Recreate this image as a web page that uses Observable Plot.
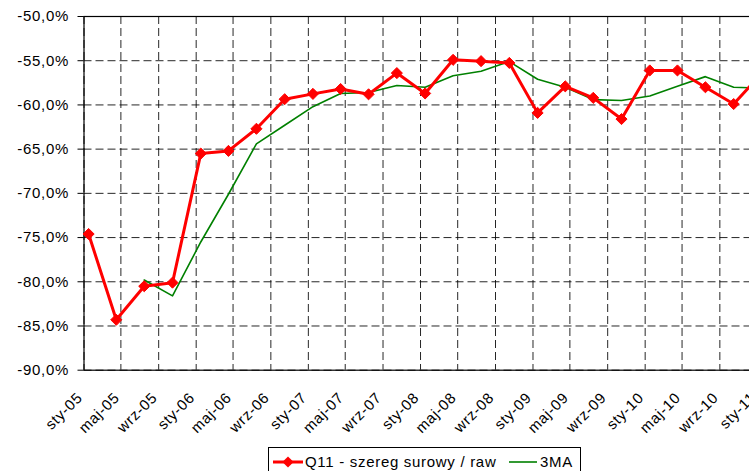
<!DOCTYPE html>
<html><head><meta charset="utf-8">
<script src="https://cdn.jsdelivr.net/npm/d3@7"></script>
<script src="https://cdn.jsdelivr.net/npm/@observablehq/plot@0.6"></script>
<style>
html,body{margin:0;padding:0;overflow:hidden;background:#fff;width:749px;height:471px}
#wrap{position:relative;width:749px;height:471px;overflow:hidden}
#chart{position:absolute;left:0;top:0;width:790px}
#chart svg{max-width:none !important}
#legend{position:absolute;left:268px;top:447px;width:313px;height:30px;border:1px solid #000;box-sizing:border-box;background:#fff}
svg text{letter-spacing:0.7px}
</style></head>
<body><div id="wrap"><div id="chart"></div><div id="legend"></div></div>
<script>
// Quarterly observations (month of observation)
const quarters = ["2005-01","2005-04","2005-07","2005-10","2006-01","2006-04","2006-07","2006-10",
  "2007-01","2007-04","2007-07","2007-10","2008-01","2008-04","2008-07","2008-10",
  "2009-01","2009-04","2009-07","2009-10","2010-01","2010-04","2010-07","2010-10","2011-01"];
// Q11 - szereg surowy / raw (%)
const raw = [-74.6,-84.3,-80.5,-80.1,-65.5,-65.2,-62.7,-59.35,-58.75,-58.2,-58.8,-56.4,
  -58.7,-54.9,-55.05,-55.25,-60.9,-57.9,-59.2,-61.6,-56.1,-56.1,-58.0,-59.9,-56.4];
// 3MA (%), first two quarters empty
const ma3 = [null,null,-79.8,-81.6,-75.5,-70.1,-64.4,-62.3,-60.2,-58.7,-58.6,-57.8,
  -58.0,-56.7,-56.2,-55.1,-57.1,-58.0,-59.4,-59.5,-59.0,-57.9,-56.8,-58.0,-58.1];
const seriesNames = ["Q11 - szereg surowy / raw","3MA"];
const tickLabels = ["sty-05","maj-05","wrz-05","sty-06","maj-06","wrz-06","sty-07","maj-07","wrz-07",
  "sty-08","maj-08","wrz-08","sty-09","maj-09","wrz-09","sty-10","maj-10","wrz-10","sty-11"];
const yTicks = [-90,-85,-80,-75,-70,-65,-60,-55,-50];
const monthNames = ["sty","lut","mar","kwi","maj","cze","lip","sie","wrz","paź","lis","gru"];

const midMonth = s => { const [y,m] = s.split("-").map(Number); return new Date(Date.UTC(y, m-1, 16)); };
const tickDates = tickLabels.map(l => { const [mn, yy] = l.split("-"); return new Date(Date.UTC(2000 + +yy, monthNames.indexOf(mn), 1)); });
const labelOf = new Map(tickDates.map((d,i) => [+d, tickLabels[i]]));

const rawData = quarters.map((q,i) => ({date: midMonth(q), value: raw[i]}));
const maData = quarters.map((q,i) => ({date: midMonth(q), value: ma3[i]})).filter(d => d.value != null);

const fmtPct = d => d.toFixed(1).replace(".", ",") + "%";
const dash = "8,4";

const chart = Plot.plot({
  width: 790, height: 440,
  marginLeft: 83.5, marginRight: 5.5, marginTop: 16, marginBottom: 70.3,
  style: {fontFamily: "'Liberation Sans', Arial, sans-serif", fontSize: "15px", background: "#fff", color: "#000", maxWidth: "none"},
  x: {type: "utc", domain: [new Date(Date.UTC(2005,0,1)), new Date(Date.UTC(2011,3,1))]},
  y: {domain: [-90, -50]},
  marks: [
    Plot.gridY(yTicks, {stroke: "#000", strokeOpacity: 0.85, strokeDasharray: dash}),
    Plot.gridX(tickDates, {stroke: "#000", strokeOpacity: 0.85, strokeDasharray: dash}),
    Plot.frame({stroke: "#000", strokeWidth: 1.2}),
    Plot.axisY(yTicks, {tickFormat: fmtPct, tickSize: 6, tickPadding: 9, label: null, fontSize: 15}),
    Plot.axisX(tickDates, {tickFormat: d => labelOf.get(+d), tickRotate: -45, tickSize: 0, tickPadding: 25, dx: -4, label: null, fontSize: 15}),
    Plot.line(maData, {x: "date", y: "value", stroke: "#008000", strokeWidth: 1.6}),
    Plot.line(rawData, {x: "date", y: "value", stroke: "#ff0000", strokeWidth: 3}),
    Plot.dot(rawData, {x: "date", y: "value", symbol: "diamond2", r: 5, fill: "#ff0000", stroke: "#ff0000", strokeWidth: 1})
  ]
});
chart.style.maxWidth = "none";
document.getElementById("chart").appendChild(chart);

// Legend below the chart
const lg = d3.select("#legend").append("svg").attr("width", 311).attr("height", 28)
  .style("position","absolute").style("left","0").style("top","0")
  .style("font-family","'Liberation Sans', Arial, sans-serif").style("font-size","15px");
lg.append("line").attr("x1",4).attr("x2",34).attr("y1",14).attr("y2",14).attr("stroke","#ff0000").attr("stroke-width",3);
lg.append("path").attr("d", d3.symbol(d3.symbolDiamond2, 80)()).attr("transform","translate(19,14)").attr("fill","#ff0000");
lg.append("text").attr("x",36).attr("y",19).text(seriesNames[0]);
lg.append("line").attr("x1",240).attr("x2",268).attr("y1",14).attr("y2",14).attr("stroke","#008000").attr("stroke-width",1.6);
lg.append("text").attr("x",271).attr("y",19).text(seriesNames[1]);
</script></body></html>
